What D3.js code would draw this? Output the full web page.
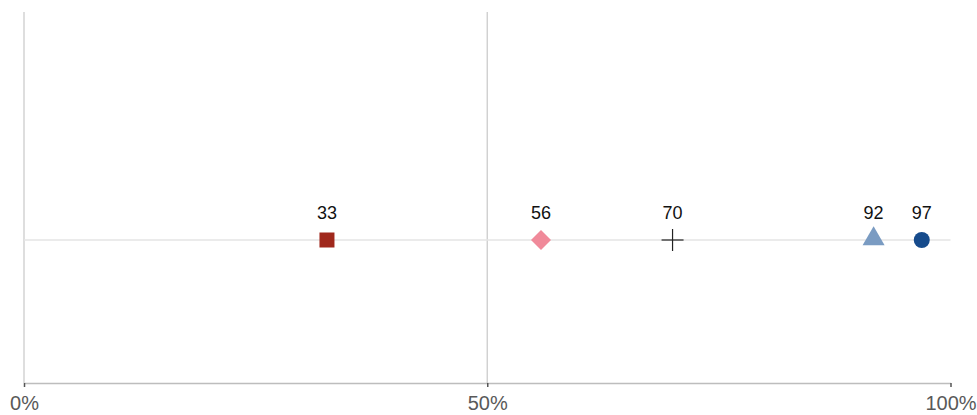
<!DOCTYPE html>
<html><head><meta charset="utf-8">
<script src="https://cdn.jsdelivr.net/npm/d3@7"></script>
<style>body{margin:0;background:#fff;}svg{display:block;font-family:Arial,"Liberation Sans",sans-serif;}</style>
</head><body>
<svg id="chart" width="977" height="415"></svg>
<script>
const names = ["A","B","C","D","E"];
const values = [32.7, 55.8, 70.0, 91.7, 96.9];
const shapes = ["square","diamond","cross","triangle","circle"];
const colors = ["#a0281c","#f08a9a","#222222","#7a9bc2","#164b8c"];
const tickValues = [0, 50, 100];

const svg = d3.select("#chart");
const x = d3.scaleLinear().domain([0,100]).range([24, 950.5]);
const yTop = 12, yAxis = 383, yRow = 240;

// gridlines
svg.selectAll(".grid").data(tickValues.slice(0,2)).join("line")
  .attr("x1", d=>x(d)).attr("x2", d=>x(d)).attr("y1", yTop).attr("y2", yAxis)
  .attr("stroke", "#cccccc").attr("stroke-width", 1.3);
// row line
svg.append("line").attr("x1", x(0)).attr("x2", x(100)).attr("y1", yRow).attr("y2", yRow)
  .attr("stroke", "#e4e4e4").attr("stroke-width", 1.3);

// axis
const axis = d3.axisBottom(x).tickValues(tickValues).tickFormat(d=>d+"%").tickSize(4).tickSizeOuter(0);
const g = svg.append("g").attr("transform", `translate(0,${yAxis})`).call(axis);
g.select(".domain").attr("stroke", "#bdbdbd").attr("stroke-width", 1.5);
g.selectAll(".tick line").attr("stroke", "#555").attr("stroke-width", 1.5);
g.selectAll(".tick text").attr("fill", "#595959").attr("font-size", 20).attr("dy", null).attr("y", 27)
  .attr("font-family", "Arial, 'Liberation Sans', sans-serif");

const symMap = {triangle: d3.symbolTriangle};
const data = values.map((v,i)=>({v, shape: shapes[i], color: colors[i]}));

const marks = svg.selectAll(".mark").data(data).join("g")
  .attr("transform", d=>`translate(${x(d.v)},${yRow})`);
marks.each(function(d){
  const s = d3.select(this);
  if (d.shape === "cross") {
    s.append("line").attr("x1",-11).attr("x2",11).attr("y1",0).attr("y2",0).attr("stroke",d.color).attr("stroke-width",1.2);
    s.append("line").attr("x1",0).attr("x2",0).attr("y1",-11).attr("y2",11).attr("stroke",d.color).attr("stroke-width",1.2);
  } else if (d.shape === "triangle") {
    s.append("path").attr("d", d3.symbol(symMap.triangle, 210)()).attr("fill", d.color).attr("transform","translate(0,-1)");
  } else if (d.shape === "diamond") {
    s.append("path").attr("d", "M0,-10L10,0L0,10L-10,0Z").attr("fill", d.color);
  } else if (d.shape === "square") {
    s.append("rect").attr("x",-7.5).attr("y",-7.5).attr("width",15).attr("height",15).attr("fill", d.color);
  } else {
    s.append("circle").attr("r", 8).attr("fill", d.color);
  }
});

svg.selectAll(".lbl").data(data).join("text")
  .attr("x", d=>x(d.v)).attr("y", 219).attr("text-anchor","middle")
  .attr("font-size", 18).attr("fill", "#111").text(d=>Math.round(d.v));
</script>
</body></html>
